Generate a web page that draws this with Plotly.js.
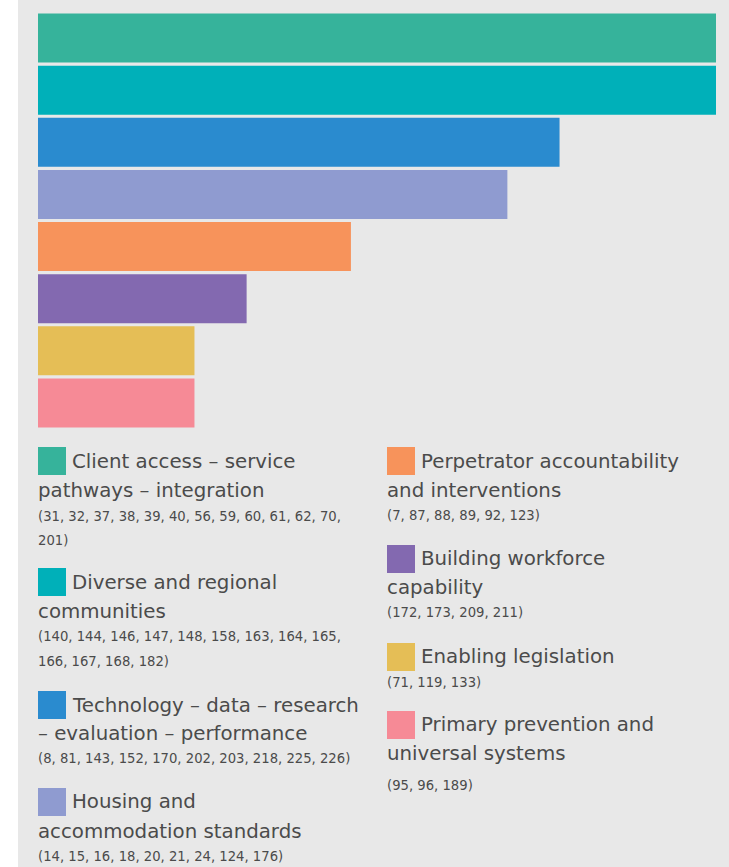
<!DOCTYPE html>
<html>
<head>
<meta charset="utf-8">
<script src="https://cdn.plot.ly/plotly-3.0.1.min.js"></script>
<style>
  html, body { margin: 0; padding: 0; background: #ffffff; width: 729px; height: 867px; overflow: hidden; }
  #chart { position: absolute; left: 18px; top: 0; width: 711px; height: 867px; }
</style>
</head>
<body>
<div id="chart"></div>
<script>
// ---- data ----
const categories = [
  "Client access – service pathways – integration",
  "Diverse and regional communities",
  "Technology – data – research – evaluation – performance",
  "Housing and accommodation standards",
  "Perpetrator accountability and interventions",
  "Building workforce capability",
  "Enabling legislation",
  "Primary prevention and universal systems"
];
const counts = [13, 13, 10, 9, 6, 4, 3, 3];
const colors = ["#36b39b", "#00b0b9", "#2a8bcf", "#8f9bd0", "#f7935b", "#8369b0", "#e5be56", "#f68a96"];
const headingLines = [
  ["Client access – service", "pathways – integration"],
  ["Diverse and regional", "communities"],
  ["Technology – data – research", "– evaluation – performance"],
  ["Housing and", "accommodation standards"],
  ["Perpetrator accountability", "and interventions"],
  ["Building workforce", "capability"],
  ["Enabling legislation"],
  ["Primary prevention and", "universal systems"]
];
const numberLines = [
  ["(31, 32, 37, 38, 39, 40, 56, 59, 60, 61, 62, 70,", "201)"],
  ["(140, 144, 146, 147, 148, 158, 163, 164, 165,", "166, 167, 168, 182)"],
  ["(8, 81, 143, 152, 170, 202, 203, 218, 225, 226)"],
  ["(14, 15, 16, 18, 20, 21, 24, 124, 176)"],
  ["(7, 87, 88, 89, 92, 123)"],
  ["(172, 173, 209, 211)"],
  ["(71, 119, 133)"],
  ["(95, 96, 189)"]
];

// ---- layout geometry (page pixels) ----
const plotL = 38, plotR = 716, plotT = 12, plotB = 429;
const xp = px => (px - plotL) / (plotR - plotL);
const yp = py => (plotB - py) / (plotB - plotT);

// legend entry positions: column x, swatch top, heading line centers, number line centers
const legendPos = [
  {x: 38,  top: 447, h: [461, 490], n: [516, 540]},
  {x: 38,  top: 568, h: [582, 611], n: [636, 661]},
  {x: 38,  top: 691, h: [705, 733], n: [758]},
  {x: 38,  top: 788, h: [801, 831], n: [857]},
  {x: 387, top: 447, h: [461, 490], n: [515]},
  {x: 387, top: 545, h: [558, 587], n: [612]},
  {x: 387, top: 643, h: [656],      n: [682]},
  {x: 387, top: 711, h: [724, 753], n: [785]}
];

const textColor = "#4b4b4b";
const fontFam = "DejaVu Sans, sans-serif";
const shapes = [];
const annotations = [];
legendPos.forEach((p, i) => {
  shapes.push({
    type: "rect", xref: "paper", yref: "paper",
    x0: xp(p.x), x1: xp(p.x + 28), y0: yp(p.top + 28), y1: yp(p.top),
    fillcolor: colors[i], line: {width: 0}
  });
  headingLines[i].forEach((t, k) => {
    annotations.push({
      xref: "paper", yref: "paper", showarrow: false,
      x: xp(k === 0 ? p.x + 32 : p.x - 2), y: yp(p.h[k]),
      xanchor: "left", yanchor: "middle", text: t,
      font: {family: fontFam, size: 19.8, color: textColor}
    });
  });
  numberLines[i].forEach((t, k) => {
    annotations.push({
      xref: "paper", yref: "paper", showarrow: false,
      x: xp(p.x - 2), y: yp(p.n[k]),
      xanchor: "left", yanchor: "middle", text: t,
      font: {family: fontFam, size: 13.2, color: textColor}
    });
  });
});

const trace = {
  type: "bar", orientation: "h",
  x: counts, y: categories,
  marker: {color: colors, line: {width: 0}},
  hoverinfo: "skip"
};

const layout = {
  width: 711, height: 867,
  margin: {l: plotL - 18, r: 711 - (plotR - 18), t: plotT, b: 867 - plotB, pad: 0},
  paper_bgcolor: "#e8e8e8", plot_bgcolor: "#e8e8e8",
  bargap: 0.06,
  showlegend: false,
  xaxis: {range: [0, 13], visible: false, fixedrange: true},
  yaxis: {autorange: "reversed", visible: false, fixedrange: true},
  shapes: shapes,
  annotations: annotations
};

Plotly.newPlot("chart", [trace], layout, {displayModeBar: false, staticPlot: true});
</script>
</body>
</html>
